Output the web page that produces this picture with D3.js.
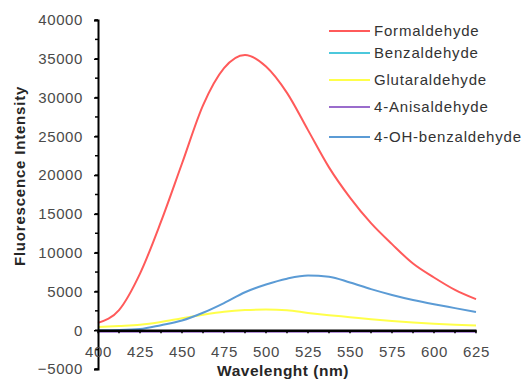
<!DOCTYPE html>
<html>
<head>
<meta charset="utf-8">
<script src="https://cdn.jsdelivr.net/npm/d3@7"></script>
<style>
  body { margin: 0; background: #fff; }
  text { font-family: "Liberation Sans", Arial, sans-serif; }
</style>
</head>
<body>
<svg id="chart"></svg>
<script>
"use strict";

const width = 528;
const height = 381;

// data
const wavelengths = [400, 412.5, 425, 437.5, 450, 462.5, 475, 487.5, 500, 512.5,
                     525, 537.5, 550, 562.5, 575, 587.5, 600, 612.5, 625];

const formaldehyde = [950, 2600, 7300, 14000, 21500, 29000, 33800, 35500, 34000, 30600,
                      25800, 21000, 17100, 13800, 11100, 8600, 6800, 5200, 4000];
const benzaldehyde = [-100, -100, -100, -100, -100, -100, -100, -100, -100, -100,
                      -100, -100, -100, -100, -100, -100, -100, -100, -100];
const glutaraldehyde = [430, 550, 700, 1060, 1550, 2000, 2380, 2600, 2670, 2570,
                        2230, 1940, 1680, 1410, 1180, 1000, 850, 720, 600];
const anisaldehyde = [-200, -200, -200, -200, -200, -200, -200, -200, -200, -200,
                      -200, -200, -200, -200, -200, -200, -200, -200, -200];
const ohBenzaldehyde = [0, 30, 150, 650, 1250, 2250, 3500, 4900, 5900, 6650,
                        7050, 6900, 6150, 5300, 4550, 3900, 3350, 2850, 2350];

const seriesNames = ["Formaldehyde", "Benzaldehyde", "Glutaraldehyde", "4-Anisaldehyde", "4-OH-benzaldehyde"];
const seriesValues = [formaldehyde, benzaldehyde, glutaraldehyde, anisaldehyde, ohBenzaldehyde];
const seriesColors = ["#ff5a5a", "#4cc8dc", "#ffff4a", "#9a6ccc", "#5b9bd5"];

const xTicks = [400, 425, 450, 475, 500, 525, 550, 575, 600, 625];
const xMinorTicks = d3.range(400, 626, 12.5);
const yTicks = [-5000, 0, 5000, 10000, 15000, 20000, 25000, 30000, 35000, 40000];
const yMinorTicks = d3.range(-5000, 40001, 2500);

const svg = d3.select("#chart")
    .attr("width", width)
    .attr("height", height);

const x = d3.scaleLinear().domain([400, 625]).range([98, 476]);
const y = d3.scaleLinear().domain([-5000, 40000]).range([369, 20]);

const tickColor = "#4a4a4a";

// series lines (drawn first, axes on top like the original)
const line = d3.line()
    .x((d, i) => x(wavelengths[i]))
    .y(d => y(d))
    .curve(d3.curveMonotoneX);

const drawOrder = [2, 4, 0, 1, 3];
drawOrder.forEach(i => {
    svg.append("path")
        .datum(seriesValues[i])
        .attr("d", line)
        .attr("fill", "none")
        .attr("stroke", seriesColors[i])
        .attr("stroke-width", 2);
});

// y axis
const yAxis = svg.append("g")
    .attr("transform", `translate(${x(400)},0)`);

yAxis.selectAll(".minor")
    .data(yMinorTicks)
    .enter()
    .append("line")
    .attr("x1", -3)
    .attr("x2", 0)
    .attr("y1", d => y(d))
    .attr("y2", d => y(d))
    .attr("stroke", "#000")
    .attr("stroke-width", 1.5);

yAxis.call(d3.axisLeft(y).tickValues(yTicks).tickSize(4).tickPadding(11).tickFormat(d3.format("d")))
    .call(g => g.select(".domain").attr("stroke-width", 2))
    .call(g => g.selectAll(".tick line").attr("stroke-width", 1.5))
    .call(g => g.selectAll(".tick text")
        .style("font-size", "15px")
        .style("letter-spacing", "0.6px")
        .attr("fill", tickColor));

// x axis on the zero line
const xAxis = svg.append("g")
    .attr("transform", `translate(0,${y(0)})`);

xAxis.call(d3.axisBottom(x).tickValues(xTicks).tickSize(0).tickPadding(16).tickFormat(d3.format("d")))
    .call(g => g.select(".domain").attr("stroke-width", 2.5))
    .call(g => g.selectAll(".tick text")
        .style("font-size", "15px")
        .style("letter-spacing", "0.6px")
        .attr("fill", tickColor));

xAxis.selectAll(".minor")
    .data(xMinorTicks)
    .enter()
    .append("line")
    .attr("x1", d => x(d))
    .attr("x2", d => x(d))
    .attr("y1", 0)
    .attr("y2", 3)
    .attr("stroke", "#000")
    .attr("stroke-width", 1.5);

// axis titles
svg.append("text")
    .attr("x", 283)
    .attr("y", 376)
    .attr("text-anchor", "middle")
    .style("font-size", "15.5px")
    .style("font-weight", "bold")
    .style("letter-spacing", "0.5px")
    .attr("fill", "#262626")
    .text("Wavelenght (nm)");

svg.append("text")
    .attr("transform", `translate(25,176) rotate(-90)`)
    .attr("text-anchor", "middle")
    .style("font-size", "15px")
    .style("font-weight", "bold")
    .style("letter-spacing", "0.8px")
    .attr("fill", "#262626")
    .text("Fluorescence Intensity");

// legend
const legendRows = [31, 53, 80, 107, 137];
const legend = svg.append("g")
    .selectAll("g")
    .data(seriesNames)
    .enter()
    .append("g")
    .attr("transform", (d, i) => `translate(329,${legendRows[i]})`);

legend.append("line")
    .attr("x1", 0)
    .attr("x2", 41)
    .attr("stroke", (d, i) => seriesColors[i])
    .attr("stroke-width", 2);

legend.append("text")
    .attr("x", 45)
    .attr("dy", "0.35em")
    .style("font-size", "15px")
    .style("letter-spacing", "0.8px")
    .attr("fill", "#333")
    .text(d => d);
</script>
</body>
</html>
